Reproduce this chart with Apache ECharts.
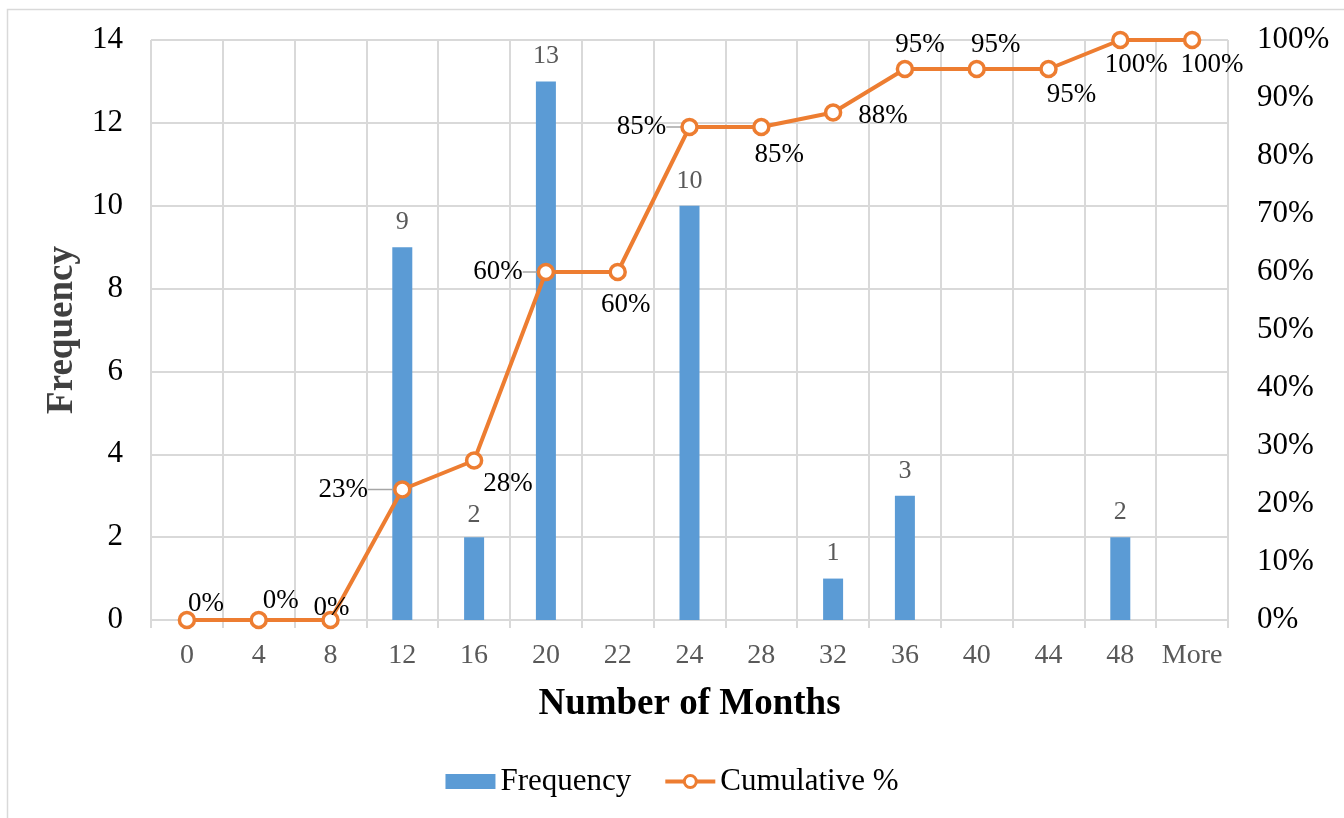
<!DOCTYPE html>
<html>
<head>
<meta charset="utf-8">
<script src="https://cdn.jsdelivr.net/npm/echarts@6/dist/echarts.min.js"></script>
<style>
html,body{margin:0;padding:0;background:#fff;}
#main{width:1344px;height:818px;}
</style>
</head>
<body>
<div id="main"></div>
<script>
const categories = ['0','4','8','12','16','20','22','24','28','32','36','40','44','48','More'];
const frequency = [0,0,0,9,2,13,0,10,0,1,3,0,0,2,0];
const cumulativePct = [0,0,0,22.5,27.5,60,60,85,85,87.5,95,95,95,100,100];

// label placement for the cumulative % labels (layout only)
const lineLabelPlace = [
  {position:'top', dx:19, dy:12},
  {position:'top', dx:22, dy:9},
  {position:'top', dx:1, dy:16},
  {position:'left', dx:-20, dy:0, guide:true},
  {position:'right', dx:-5, dy:23},
  {position:'left', dx:-9, dy:0, guide:true},
  {position:'bottom', dx:8, dy:5},
  {position:'left', dx:-9, dy:0, guide:true},
  {position:'bottom', dx:18, dy:0},
  {position:'right', dx:11, dy:3},
  {position:'top', dx:15, dy:4},
  {position:'top', dx:19, dy:4},
  {position:'bottom', dx:23, dy:-2},
  {position:'bottom', dx:16, dy:-3},
  {position:'bottom', dx:20, dy:-3}
];
const barLabelDistance = [12,12,12,12,9,12,12,12,12,12,12,12,12,12,12];

const FONT = '"Liberation Serif","Times New Roman",serif';
const GRID = '#d9d9d9';
const ORANGE = '#ED7D31';

const chart = echarts.init(document.getElementById('main'), null, {renderer:'canvas'});

const barData = frequency.map((v,i)=>({
  value: v,
  label: {distance: barLabelDistance[i]}
}));
const lineData = cumulativePct.map((v,i)=>{
  const p = lineLabelPlace[i];
  const item = {value: v, label:{position:p.position}};
  item.labelLine = p.guide
    ? {show:true, lineStyle:{color:'#a6a6a6', width:1.5}}
    : {show:false};
  return item;
});

chart.setOption({
  animation:false,
  backgroundColor:'#fff',
  textStyle:{fontFamily:FONT},
  graphic:[{
    type:'rect', silent:true, z:-1,
    shape:{x:7.5, y:9.5, width:1400, height:900},
    style:{fill:'none', stroke:GRID, lineWidth:1.5}
  }],
  grid:{left:151, right:116, top:40, bottom:198, containLabel:false},
  legend:{
    bottom:16, left:'center',
    itemWidth:50, itemHeight:15, itemGap:32,
    textStyle:{fontFamily:FONT, fontSize:31, color:'#000'},
    data:[
      {name:'Frequency', icon:'rect'},
      {name:'Cumulative %', lineStyle:{width:4, color:ORANGE}, itemStyle:{color:'#fff', borderColor:ORANGE, borderWidth:3}}
    ]
  },
  xAxis:{
    type:'category',
    data:categories,
    name:'Number of Months',
    nameLocation:'middle',
    nameGap:66,
    nameTextStyle:{fontFamily:FONT, fontSize:37, fontWeight:'bold', color:'#000'},
    axisLine:{lineStyle:{color:GRID, width:2}},
    axisTick:{show:true, interval:0, length:8, lineStyle:{color:GRID, width:2}},
    axisLabel:{interval:0, fontFamily:FONT, fontSize:28, color:'#595959', margin:22},
    splitLine:{show:true, interval:0, lineStyle:{color:GRID, width:2}}
  },
  yAxis:[{
    type:'value', min:0, max:14, interval:2,
    name:'Frequency',
    nameLocation:'middle',
    nameGap:70,
    nameRotate:90,
    nameTextStyle:{fontFamily:FONT, fontSize:37, fontWeight:'bold', color:'#404040'},
    axisLine:{show:false}, axisTick:{show:false},
    axisLabel:{fontFamily:FONT, fontSize:31, color:'#000', margin:28},
    splitLine:{show:true, lineStyle:{color:GRID, width:2}}
  },{
    type:'value', min:0, max:100, interval:10,
    position:'right',
    axisLine:{show:false}, axisTick:{show:false},
    axisLabel:{fontFamily:FONT, fontSize:31, color:'#000', margin:29, formatter:'{value}%'},
    splitLine:{show:false}
  }],
  series:[{
    name:'Frequency',
    type:'bar',
    yAxisIndex:0,
    data:barData,
    barWidth:20,
    itemStyle:{color:'#5B9BD5'},
    label:{
      show:true, position:'top',
      fontFamily:FONT, fontSize:26, color:'#595959',
      formatter:(p)=> p.value > 0 ? String(p.value) : ''
    },
    z:2
  },{
    name:'Cumulative %',
    type:'line',
    yAxisIndex:1,
    data:lineData,
    symbol:'circle',
    symbolSize:15,
    showAllSymbol:true,
    lineStyle:{color:ORANGE, width:4},
    itemStyle:{color:'#fff', borderColor:ORANGE, borderWidth:3.5},
    label:{
      show:true,
      fontFamily:FONT, fontSize:27, color:'#000', distance:5,
      formatter:(p)=> Math.round(p.value) + '%'
    },
    labelLayout:(params)=>{
      const p = lineLabelPlace[params.dataIndex];
      return p ? {dx:p.dx, dy:p.dy} : {};
    },
    z:3
  }]
});
</script>
</body>
</html>
